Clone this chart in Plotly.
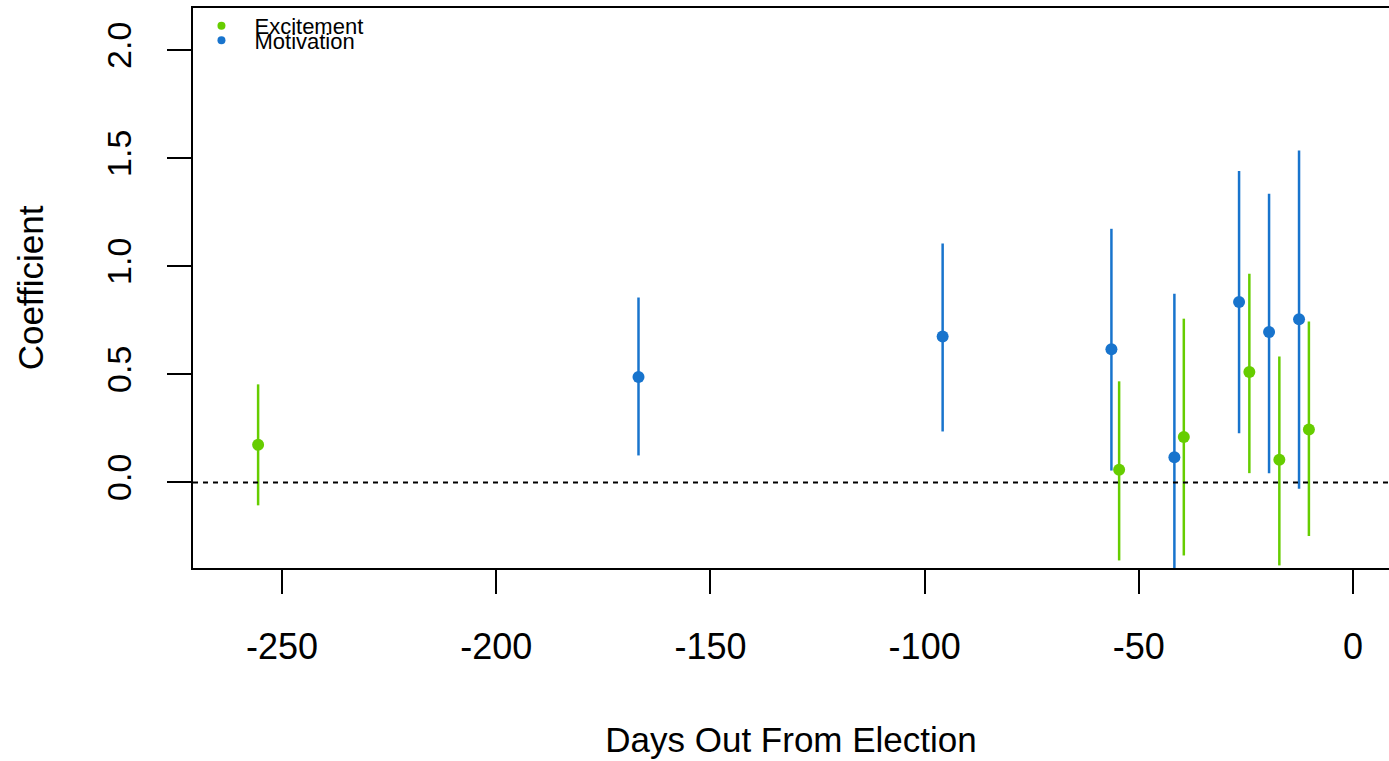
import plotly.graph_objects as go

# Excitement series (days out from election, coefficient, CI bounds)
excite_days = [-255.6, -54.6, -39.5, -24.2, -17.2, -10.3]
excite_coef = [0.174, 0.059, 0.210, 0.511, 0.105, 0.245]
excite_lo = [-0.106, -0.361, -0.338, 0.043, -0.384, -0.248]
excite_hi = [0.454, 0.468, 0.758, 0.966, 0.583, 0.745]

# Motivation series
motiv_days = [-166.8, -95.8, -56.4, -41.7, -26.6, -19.6, -12.6]
motiv_coef = [0.488, 0.676, 0.616, 0.117, 0.835, 0.696, 0.755]
motiv_lo = [0.125, 0.236, 0.055, -0.639, 0.228, 0.043, -0.029]
motiv_hi = [0.856, 1.106, 1.174, 0.873, 1.441, 1.336, 1.537]

x_ticks = [-250, -200, -150, -100, -50, 0]
y_ticks = [0.0, 0.5, 1.0, 1.5, 2.0]
y_tick_labels = ["0.0", "0.5", "1.0", "1.5", "2.0"]

GREEN = "#66CD00"
BLUE = "#1874CD"
FONT = "Liberation Sans, Arial, sans-serif"


def err(coef, lo, hi):
    plus = [h - c for c, h in zip(coef, hi)]
    minus = [c - l for c, l in zip(coef, lo)]
    return plus, minus


fig = go.Figure()

series = [
    ("Excitement", excite_days, excite_coef, excite_lo, excite_hi, GREEN, "legend"),
    ("Motivation", motiv_days, motiv_coef, motiv_lo, motiv_hi, BLUE, "legend2"),
]

for name, days, coef, lo, hi, col, leg in series:
    plus, minus = err(coef, lo, hi)
    fig.add_trace(go.Scatter(
        x=days, y=coef, mode="markers", name=name, showlegend=False,
        legendgroup=name,
        marker=dict(color=col, size=12, line=dict(width=0)),
        error_y=dict(type="data", symmetric=False, array=plus, arrayminus=minus,
                     color=col, thickness=2.5, width=0),
        cliponaxis=True,
    ))
    # legend key (small dot, as in the reference legend)
    fig.add_trace(go.Scatter(
        x=[None], y=[None], mode="markers", name=name, legend=leg,
        legendgroup=name, showlegend=True,
        marker=dict(color=col, size=8, line=dict(width=0)),
    ))

fig.add_shape(type="line", xref="paper", x0=0, x1=1, yref="y", y0=0, y1=0,
              line=dict(color="black", width=2, dash="5px,5px"), layer="above")

leg_common = dict(xanchor="left", yanchor="middle", bgcolor="rgba(0,0,0,0)",
                  font=dict(size=22, family=FONT, color="black"),
                  itemwidth=56, borderwidth=0, itemclick=False, itemdoubleclick=False)

fig.update_layout(
    width=1389, height=761,
    margin=dict(l=193, r=0, t=8, b=193),
    paper_bgcolor="white", plot_bgcolor="white",
    font=dict(family=FONT, color="black"),
    showlegend=True,
    legend=dict(x=-0.0038, y=0.9679, **leg_common),
    legend2=dict(x=-0.0038, y=0.942, **leg_common),
    xaxis=dict(
        range=[-270.8, 8.4], tickvals=x_ticks, ticktext=[str(v) for v in x_ticks],
        showgrid=False, zeroline=False,
        showline=True, linecolor="black", linewidth=2, mirror=True,
        ticks="outside", ticklen=24, tickwidth=2, tickcolor="black",
        tickfont=dict(size=36, family=FONT, color="black"),
        ticklabelstandoff=22,
        title=dict(text="Days Out From Election", font=dict(size=35, family=FONT), standoff=61),
    ),
    yaxis=dict(
        range=[-0.396, 2.196], tickvals=y_ticks, ticktext=y_tick_labels,
        showgrid=False, zeroline=False,
        showline=True, linecolor="black", linewidth=2, mirror=False,
        ticks="outside", ticklen=24, tickwidth=2, tickcolor="black",
        tickangle=-90,
        tickfont=dict(size=34, family=FONT, color="black"),
        ticklabelstandoff=22,
        title=dict(text="Coefficient", font=dict(size=35, family=FONT), standoff=46),
    ),
)

fig.write_html("out.html")
